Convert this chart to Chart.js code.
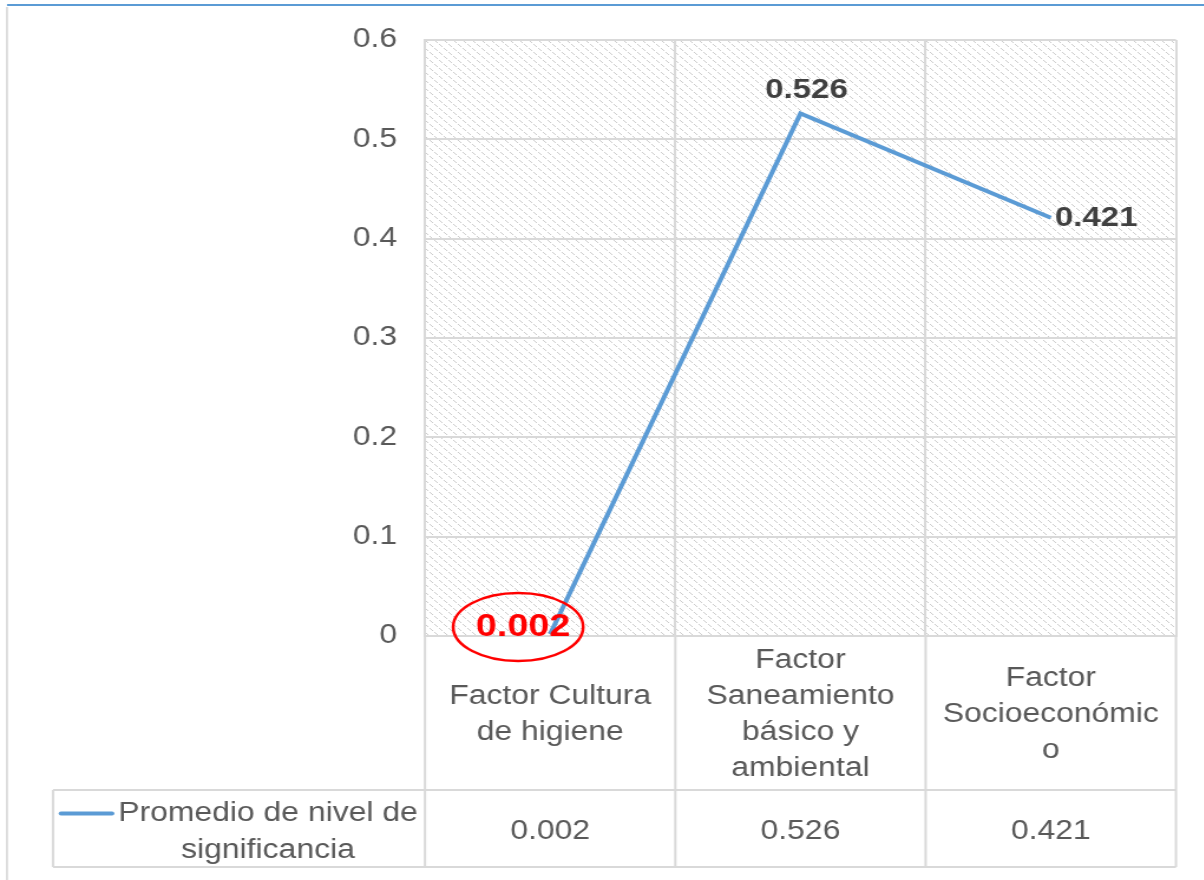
<!DOCTYPE html>
<html>
<head>
<meta charset="utf-8">
<script src="https://cdn.jsdelivr.net/npm/chart.js@4.4.1/dist/chart.umd.min.js"></script>
<style>
  html, body { margin: 0; padding: 0; background: #fff; overflow: hidden; }
  #wrap { height: 880px; position: relative; transform-origin: 0 0; }
</style>
</head>
<body>
<div id="wrap"><canvas id="chart"></canvas></div>
<script>
// datos
const categories = [
    ['Factor Cultura', 'de higiene'],
    ['Factor', 'Saneamiento', 'básico y', 'ambiental'],
    ['Factor', 'Socioeconómic', 'o']
];
const seriesName = ['Promedio de nivel de', 'significancia'];
const values = [0.002, 0.526, 0.421];
const yTicks = [0, 0.1, 0.2, 0.3, 0.4, 0.5, 0.6];

const FONT = "'Liberation Sans', Arial, sans-serif";
const TEXT = '#595959';
const GRID = '#d9d9d9';
const LINE = '#5b9bd5';

// el original esta estirado en horizontal
const SX = 1.18;
const W = 1204 / SX;
const wrap = document.getElementById('wrap');
wrap.style.width = W + 'px';
wrap.style.transform = 'scaleX(' + SX + ')';
const X = v => v / SX;   // px del original -> px internos

function makeHatch() {
    const c = document.createElement('canvas');
    c.width = 8; c.height = 8;
    const g = c.getContext('2d');
    g.fillStyle = '#ffffff';
    g.fillRect(0, 0, 8, 8);
    g.fillStyle = '#cdcdcd';
    for (let i = 0; i < 8; i++) {
        if (i % 4 !== 3) g.fillRect(i, i, 1, 1);
    }
    return c;
}

const framePlugin = {
    id: 'frame',
    beforeDraw(chart) {
        const ctx = chart.ctx;
        const a = chart.chartArea;
        ctx.save();
        ctx.fillStyle = '#fff';
        ctx.fillRect(0, 0, chart.width, chart.height);
        // marco exterior
        ctx.fillStyle = LINE;
        ctx.fillRect(X(7), 4, chart.width, 2);
        ctx.fillStyle = GRID;
        ctx.fillRect(X(6), 7, X(2), chart.height - 7);
        // fondo rayado
        ctx.fillStyle = ctx.createPattern(makeHatch(), 'repeat');
        ctx.fillRect(a.left, a.top, a.right - a.left, a.bottom - a.top);
        ctx.restore();
    }
};

const tablePlugin = {
    id: 'dataTable',
    afterDraw(chart) {
        const ctx = chart.ctx;
        const a = chart.chartArea;
        const x = chart.scales.x;
        const n = categories.length;
        const colW = (x.right - x.left) / n;
        const row1 = a.bottom + 154;
        const row2 = row1 + 77;
        const legendLeft = X(53);

        ctx.save();
        ctx.strokeStyle = GRID;
        ctx.lineWidth = 2;
        ctx.beginPath();
        for (let i = 0; i <= n; i++) {
            const px = x.left + colW * i;
            ctx.moveTo(px, a.bottom);
            ctx.lineTo(px, row2);
        }
        ctx.moveTo(legendLeft, row1); ctx.lineTo(x.right, row1);
        ctx.moveTo(legendLeft, row2); ctx.lineTo(x.right, row2);
        ctx.moveTo(legendLeft, row1); ctx.lineTo(legendLeft, row2);
        ctx.stroke();

        ctx.fillStyle = TEXT;
        ctx.font = '27px ' + FONT;
        ctx.textAlign = 'center';
        ctx.textBaseline = 'middle';
        const lh = 36;
        const ly = (row1 + row2) / 2 + 3;
        categories.forEach((lines, i) => {
            const cx = x.getPixelForValue(i);
            const cy = (a.bottom + row1) / 2 + 2;
            lines.forEach((t, k) => {
                ctx.fillText(t, cx, cy + (k - (lines.length - 1) / 2) * lh);
            });
            ctx.fillText(String(values[i]), cx, ly);
        });

        // leyenda dentro de la tabla
        ctx.strokeStyle = LINE;
        ctx.lineWidth = 4;
        ctx.lineCap = 'round';
        ctx.beginPath();
        ctx.moveTo(X(61), ly - 18);
        ctx.lineTo(X(112), ly - 18);
        ctx.stroke();
        ctx.fillStyle = TEXT;
        ctx.fillText(seriesName[0], X(268), ly - 18);
        ctx.fillText(seriesName[1], X(268), ly + 19);
        ctx.restore();
    }
};

const labelPlugin = {
    id: 'pointLabels',
    afterDatasetsDraw(chart) {
        const ctx = chart.ctx;
        const pts = chart.getDatasetMeta(0).data;
        ctx.save();
        ctx.textBaseline = 'middle';
        // 0.002 resaltado
        const p0 = pts[0];
        ctx.strokeStyle = '#ff0000';
        ctx.lineWidth = 2.5;
        ctx.beginPath();
        ctx.ellipse(p0.x - X(32), p0.y - 7, X(65), 34, 0, 0, Math.PI * 2);
        ctx.stroke();
        ctx.fillStyle = '#ff0000';
        ctx.font = 'bold 32px ' + FONT;
        ctx.textAlign = 'center';
        ctx.fillText(String(values[0]), p0.x - X(27), p0.y - 7);

        ctx.fillStyle = '#404040';
        ctx.font = 'bold 28px ' + FONT;
        const p1 = pts[1];
        ctx.fillText(String(values[1]), p1.x + X(6), p1.y - 23);
        const p2 = pts[2];
        ctx.textAlign = 'left';
        ctx.fillText(String(values[2]), p2.x + X(4), p2.y + 1);
        ctx.restore();
    }
};

new Chart(document.getElementById('chart'), {
    type: 'line',
    data: {
        labels: categories.map(c => c.join(' ')),
        datasets: [{
            label: seriesName.join(' '),
            data: values,
            borderColor: LINE,
            borderWidth: 4,
            pointRadius: 0,
            tension: 0,
            fill: false
        }]
    },
    options: {
        responsive: true,
        maintainAspectRatio: false,
        animation: false,
        layout: { padding: { top: 30, right: W - X(1176), left: 0, bottom: 0 } },
        plugins: {
            legend: { display: false },
            tooltip: { enabled: false }
        },
        scales: {
            x: {
                offset: true,
                grid: { offset: true, color: GRID, lineWidth: 2, drawTicks: false },
                border: { color: GRID, width: 2 },
                ticks: { display: false },
                afterFit: s => { s.height = 244; }
            },
            y: {
                min: 0,
                max: 0.6,
                afterBuildTicks: s => { s.ticks = yTicks.map(v => ({ value: v })); },
                grid: { color: GRID, lineWidth: 2, drawTicks: false },
                border: { color: GRID, width: 2 },
                ticks: {
                    color: TEXT,
                    font: { family: FONT, size: 27 },
                    padding: X(28),
                    callback: v => String(v)
                },
                afterFit: s => { s.width = X(425); }
            }
        }
    },
    plugins: [framePlugin, labelPlugin, tablePlugin]
});
</script>
</body>
</html>
